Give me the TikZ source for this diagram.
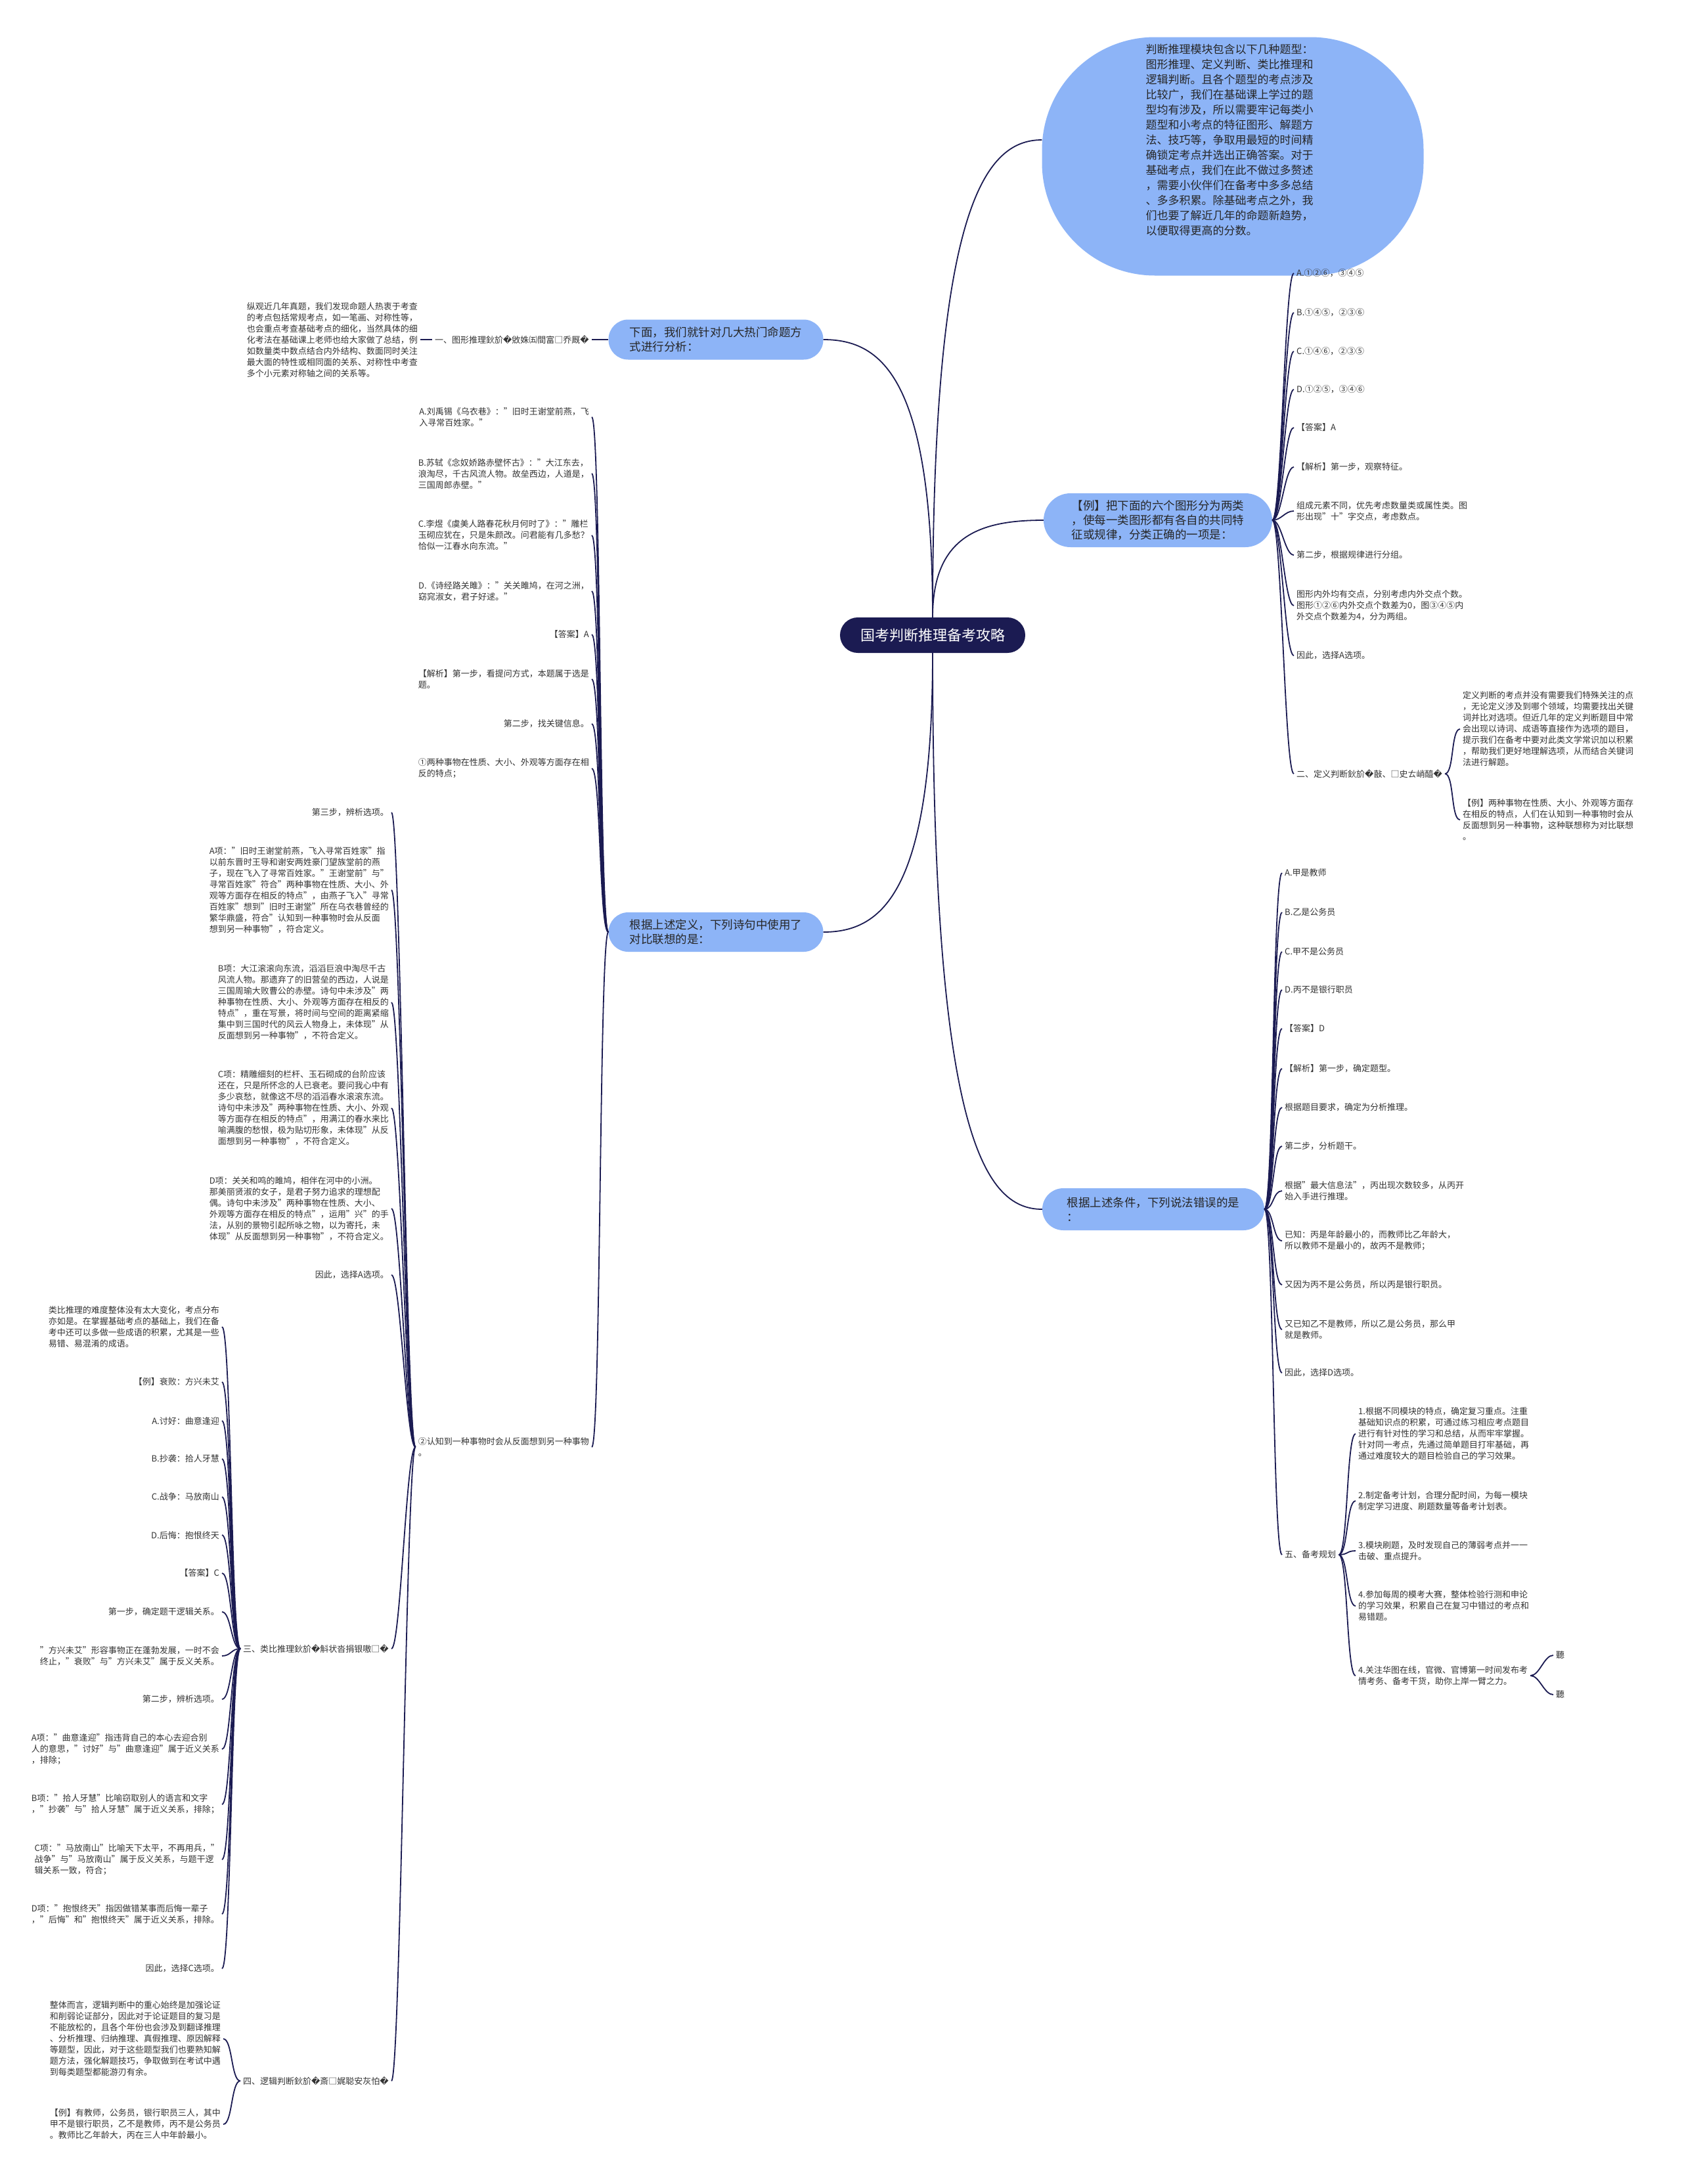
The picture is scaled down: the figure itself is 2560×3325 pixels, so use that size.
\documentclass[tikz,border=0pt]{standalone}
\usepackage{fontspec}
\setmainfont{Noto Sans CJK SC}
\newfontfamily\repfont{DejaVu Sans}
\newcommand{\badch}{{\repfont\symbol{"FFFD}}}

\definecolor{mapnavy}{RGB}{27,27,82}
\definecolor{mapblue}{RGB}{141,180,247}

\tikzset{
  link/.style={draw=mapnavy, line width=1.8pt},
  rootbox/.style={fill=mapnavy, text=white, rounded corners=27pt, minimum width=282pt,
    minimum height=54pt, font=\fontsize{22}{26}\selectfont},
  topicbox/.style={fill=mapblue, rounded corners=30pt, align=left, text=black!85,
    font=\fontsize{17.5}{22}\selectfont},
  leaf/.style={align=left, inner xsep=4pt, inner ysep=2pt, text=black!80,
    font=\fontsize{13}{17}\selectfont},
  leafR/.style={leaf, anchor=west},
  leafL/.style={leaf, anchor=east}
}

\newcommand{\toright}[2]{\draw[link] (#1.east) .. controls +(14,0) and +(-14,0) .. (#2.west);}
\newcommand{\toleft}[2]{\draw[link] (#1.west) .. controls +(-14,0) and +(14,0) .. (#2.east);}

\begin{document}
\begin{tikzpicture}[x=1pt,y=-1pt]

    \fill[white] (0,0) rectangle (2560,3325);
    \useasboundingbox (0,0) rectangle (2560,3325);

    % Nodo central
    \node[rootbox] (root) at (1420,967) {国考判断推理备考攻略};

    % Ramas principales
    \node[fill=mapblue, rounded corners=172pt, minimum width=581pt, minimum height=363pt] (bubble) at (1877,238) {};
    \node[align=left, text=black!85, font=\fontsize{17}{23}\selectfont] (bubbletext) at (1872,213)
      {判断推理模块包含以下几种题型：\\图形推理、定义判断、类比推理和\\逻辑判断。且各个题型的考点涉及\\比较广，我们在基础课上学过的题\\型均有涉及，所以需要牢记每类小\\题型和小考点的特征图形、解题方\\法、技巧等，争取用最短的时间精\\确锁定考点并选出正确答案。对于\\基础考点，我们在此不做过多赘述\\，需要小伙伴们在备考中多多总结\\、多多积累。除基础考点之外，我\\们也要了解近几年的命题新趋势，\\以便取得更高的分数。};
    \node[topicbox, minimum width=348pt, minimum height=82pt, rounded corners=41pt] (exam) at (1763,792)
      {【例】把下面的六个图形分为两类\\，使每一类图形都有各自的共同特\\征或规律，分类正确的一项是：};
    \node[topicbox, minimum width=338pt, minimum height=64pt, rounded corners=32pt] (cond) at (1756,1841)
      {根据上述条件，下列说法错误的是\\：};
    \node[topicbox, minimum width=327pt, minimum height=61pt] (intro) at (1090,517)
      {下面，我们就针对几大热门命题方\\式进行分析：};
    \node[topicbox, minimum width=327pt, minimum height=60pt] (poem) at (1090,1419)
      {根据上述定义，下列诗句中使用了\\对比联想的是：};

    \draw[link] (root.north) .. controls (1420,330) and (1495,213) .. (bubble.west |- bubbletext.west);
    \draw[link] (root.north) .. controls (1420,814) and (1495,792) .. (exam.west);
    \draw[link] (root.south) .. controls (1420,1714) and (1495,1841) .. (cond.west);
    \draw[link] (root.north) .. controls (1420,580) and (1345,517) .. (intro.east);
    \draw[link] (root.south) .. controls (1420,1355) and (1345,1419) .. (poem.east);

    % Ejemplo de figuras
    \node[leafR] (r2a) at (1970,416) {A.①②⑥，③④⑤};
    \node[leafR] (r2b) at (1970,476) {B.①④⑤，②③⑥};
    \node[leafR] (r2c) at (1970,535) {C.①④⑥，②③⑤};
    \node[leafR] (r2d) at (1970,593) {D.①②⑤，③④⑥};
    \node[leafR] (r2e) at (1970,651) {【答案】A};
    \node[leafR] (r2f) at (1970,711) {【解析】第一步，观察特征。};
    \node[leafR] (r2g) at (1970,778) {组成元素不同，优先考虑数量类或属性类。图\\形出现"十"字交点，考虑数点。};
    \node[leafR] (r2h) at (1970,845) {第二步，根据规律进行分组。};
    \node[leafR] (r2i) at (1970,922) {图形内外均有交点，分别考虑内外交点个数。\\图形①②⑥内外交点个数差为0，图③④⑤内\\外交点个数差为4，分为两组。};
    \node[leafR] (r2j) at (1970,998) {因此，选择A选项。};
    \node[leafR] (def) at (1970,1178) {二、定义判断鈥斺\badch 敼、□史ㄊ峭醯\badch};
    \node[leafR] (defa) at (2223,1110) {定义判断的考点并没有需要我们特殊关注的点\\，无论定义涉及到哪个领域，均需要找出关键\\词并比对选项。但近几年的定义判断题目中常\\会出现以诗词、成语等直接作为选项的题目，\\提示我们在备考中要对此类文学常识加以积累\\，帮助我们更好地理解选项，从而结合关键词\\法进行解题。};
    \node[leafR] (defb) at (2223,1248) {【例】两种事物在性质、大小、外观等方面存\\在相反的特点，人们在认知到一种事物时会从\\反面想到另一种事物，这种联想称为对比联想\\。};

    \foreach \c in {r2a,r2b,r2c,r2d,r2e,r2f,r2g,r2h,r2i,r2j,def} \toright{exam}{\c};
    \foreach \c in {defa,defb} \toright{def}{\c};

    % Razonamiento analitico
    \node[leafR] (c1) at (1952,1329) {A.甲是教师};
    \node[leafR] (c2) at (1952,1389) {B.乙是公务员};
    \node[leafR] (c3) at (1952,1449) {C.甲不是公务员};
    \node[leafR] (c4) at (1952,1507) {D.丙不是银行职员};
    \node[leafR] (c5) at (1952,1566) {【答案】D};
    \node[leafR] (c6) at (1952,1627) {【解析】第一步，确定题型。};
    \node[leafR] (c7) at (1952,1686) {根据题目要求，确定为分析推理。};
    \node[leafR] (c8) at (1952,1745) {第二步，分析题干。};
    \node[leafR] (c9) at (1952,1813) {根据"最大信息法"，丙出现次数较多，从丙开\\始入手进行推理。};
    \node[leafR] (c10) at (1952,1889) {已知：丙是年龄最小的，而教师比乙年龄大，\\所以教师不是最小的，故丙不是教师；};
    \node[leafR] (c11) at (1952,1956) {又因为丙不是公务员，所以丙是银行职员。};
    \node[leafR] (c12) at (1952,2024) {又已知乙不是教师，所以乙是公务员，那么甲\\就是教师。};
    \node[leafR] (c13) at (1952,2090) {因此，选择D选项。};
    \node[leafR] (plan) at (1952,2367) {五、备考规划};
    \node[leafR] (p1) at (2064,2183) {1.根据不同模块的特点，确定复习重点。注重\\基础知识点的积累，可通过练习相应考点题目\\进行有针对性的学习和总结，从而牢牢掌握。\\针对同一考点，先通过简单题目打牢基础，再\\通过难度较大的题目检验自己的学习效果。};
    \node[leafR] (p2) at (2064,2285) {2.制定备考计划，合理分配时间，为每一模块\\制定学习进度、刷题数量等备考计划表。};
    \node[leafR] (p3) at (2064,2361) {3.模块刷题，及时发现自己的薄弱考点并一一\\击破、重点提升。};
    \node[leafR] (p4) at (2064,2445) {4.参加每周的模考大赛，整体检验行测和申论\\的学习效果，积累自己在复习中错过的考点和\\易错题。};
    \node[leafR] (p5) at (2064,2551) {4.关注华图在线，官微、官博第一时间发布考\\情考务、备考干货，助你上岸一臂之力。};
    \node[leafR] (s1) at (2365,2520) {聽};
    \node[leafR] (s2) at (2365,2580) {聽};

    \foreach \c in {c1,c2,c3,c4,c5,c6,c7,c8,c9,c10,c11,c12,c13,plan} \toright{cond}{\c};
    \foreach \c in {p1,p2,p3,p4,p5} \toright{plan}{\c};
    \foreach \c in {s1,s2} \toright{p5}{\c};

    % Razonamiento grafico
    \node[leafL] (lab1) at (901,517) {一、图形推理鈥斺\badch 敓姝㈤間富□乔厩\badch};
    \node[leafL] (trend) at (640,517) {纵观近几年真题，我们发现命题人热衷于考查\\的考点包括常规考点，如一笔画、对称性等，\\也会重点考查基础考点的细化，当然具体的细\\化考法在基础课上老师也给大家做了总结，例\\如数量类中数点结合内外结构、数面同时关注\\最大面的特性或相同面的关系、对称性中考查\\多个小元素对称轴之间的关系等。};
    \toleft{intro}{lab1}
    \toleft{lab1}{trend}

    % Poemas y asociacion por contraste
    \node[leafL] (q1) at (901,635) {A.刘禹锡《乌衣巷》："旧时王谢堂前燕，飞\\入寻常百姓家。"};
    \node[leafL] (q2) at (901,721) {B.苏轼《念奴娇路赤壁怀古》："大江东去，\\浪淘尽，千古风流人物。故垒西边，人道是，\\三国周郎赤壁。"};
    \node[leafL] (q3) at (901,815) {C.李煜《虞美人路春花秋月何时了》："雕栏\\玉砌应犹在，只是朱颜改。问君能有几多愁？\\恰似一江春水向东流。"};
    \node[leafL] (q4) at (901,900) {D.《诗经路关雎》："关关雎鸠，在河之洲，\\窈窕淑女，君子好逑。"};
    \node[leafL] (q5) at (901,966) {【答案】A};
    \node[leafL] (q6) at (901,1034) {【解析】第一步，看提问方式，本题属于选是\\题。};
    \node[leafL] (q7) at (901,1102) {第二步，找关键信息。};
    \node[leafL] (q8) at (901,1170) {①两种事物在性质、大小、外观等方面存在相\\反的特点；};
    \node[leafL] (q9) at (901,2203) {②认知到一种事物时会从反面想到另一种事物\\。};
    \foreach \c in {q1,q2,q3,q4,q5,q6,q7,q8,q9} \toleft{poem}{\c};

    \node[leafL] (k1) at (596,1237) {第三步，辨析选项。};
    \node[leafL] (k2) at (596,1355) {A项："旧时王谢堂前燕，飞入寻常百姓家"指\\以前东晋时王导和谢安两姓豪门望族堂前的燕\\子，现在飞入了寻常百姓家。"王谢堂前"与"\\寻常百姓家"符合"两种事物在性质、大小、外\\观等方面存在相反的特点"，由燕子飞入"寻常\\百姓家"想到"旧时王谢堂"所在乌衣巷曾经的\\繁华鼎盛，符合"认知到一种事物时会从反面\\想到另一种事物"，符合定义。};
    \node[leafL] (k3) at (596,1526) {B项：大江滚滚向东流，滔滔巨浪中淘尽千古\\风流人物。那遗弃了的旧营垒的西边，人说是\\三国周瑜大败曹公的赤壁。诗句中未涉及"两\\种事物在性质、大小、外观等方面存在相反的\\特点"，重在写景，将时间与空间的距离紧缩\\集中到三国时代的风云人物身上，未体现"从\\反面想到另一种事物"，不符合定义。};
    \node[leafL] (k4) at (596,1687) {C项：精雕细刻的栏杆、玉石砌成的台阶应该\\还在，只是所怀念的人已衰老。要问我心中有\\多少哀愁，就像这不尽的滔滔春水滚滚东流。\\诗句中未涉及"两种事物在性质、大小、外观\\等方面存在相反的特点"，用满江的春水来比\\喻满腹的愁恨，极为贴切形象，未体现"从反\\面想到另一种事物"，不符合定义。};
    \node[leafL] (k5) at (596,1840) {D项：关关和鸣的雎鸠，相伴在河中的小洲。\\那美丽贤淑的女子，是君子努力追求的理想配\\偶。诗句中未涉及"两种事物在性质、大小、\\外观等方面存在相反的特点"，运用"兴"的手\\法，从别的景物引起所咏之物，以为寄托，未\\体现"从反面想到另一种事物"，不符合定义。};
    \node[leafL] (k6) at (596,1941) {因此，选择A选项。};
    \node[leafL] (ana) at (596,2510) {三、类比推理鈥斺\badch 斛状沓捐银嗷□\badch};
    \node[leafL] (logic) at (596,3168) {四、逻辑判断鈥斺\badch 斎□娓聪安灰怕\badch};
    \foreach \c in {k1,k2,k3,k4,k5,k6,ana,logic} \toleft{q9}{\c};

    % Analogias
    \node[leafL] (a1) at (338,2020) {类比推理的难度整体没有太大变化，考点分布\\亦如是。在掌握基础考点的基础上，我们在备\\考中还可以多做一些成语的积累，尤其是一些\\易错、易混淆的成语。};
    \node[leafL] (a2) at (338,2104) {【例】衰败：方兴未艾};
    \node[leafL] (a3) at (338,2163) {A.讨好：曲意逢迎};
    \node[leafL] (a4) at (338,2221) {B.抄袭：拾人牙慧};
    \node[leafL] (a5) at (338,2279) {C.战争：马放南山};
    \node[leafL] (a6) at (338,2337) {D.后悔：抱恨终天};
    \node[leafL] (a7) at (338,2395) {【答案】C};
    \node[leafL] (a8) at (338,2454) {第一步，确定题干逻辑关系。};
    \node[leafL] (a9) at (338,2521) {"方兴未艾"形容事物正在蓬勃发展，一时不会\\终止，"衰败"与"方兴未艾"属于反义关系。};
    \node[leafL] (a10) at (338,2587) {第二步，辨析选项。};
    \node[leafL] (a11) at (338,2663) {A项："曲意逢迎"指违背自己的本心去迎合别\\人的意思，"讨好"与"曲意逢迎"属于近义关系\\，排除；};
    \node[leafL] (a12) at (338,2747) {B项："拾人牙慧"比喻窃取别人的语言和文字\\，"抄袭"与"拾人牙慧"属于近义关系，排除；};
    \node[leafL] (a13) at (338,2831) {C项："马放南山"比喻天下太平，不再用兵，"\\战争"与"马放南山"属于反义关系，与题干逻\\辑关系一致，符合；};
    \node[leafL] (a14) at (338,2914) {D项："抱恨终天"指因做错某事而后悔一辈子\\，"后悔"和"抱恨终天"属于近义关系，排除。};
    \node[leafL] (a15) at (338,2997) {因此，选择C选项。};
    \foreach \c in {a1,a2,a3,a4,a5,a6,a7,a8,a9,a10,a11,a12,a13,a14,a15} \toleft{ana}{\c};

    % Logica
    \node[leafL] (g1) at (340,3104) {整体而言，逻辑判断中的重心始终是加强论证\\和削弱论证部分，因此对于论证题目的复习是\\不能放松的，且各个年份也会涉及到翻译推理\\、分析推理、归纳推理、真假推理、原因解释\\等题型，因此，对于这些题型我们也要熟知解\\题方法，强化解题技巧，争取做到在考试中遇\\到每类题型都能游刃有余。};
    \node[leafL] (g2) at (340,3234) {【例】有教师，公务员，银行职员三人，其中\\甲不是银行职员，乙不是教师，丙不是公务员\\。教师比乙年龄大，丙在三人中年龄最小。};
    \foreach \c in {g1,g2} \toleft{logic}{\c};

\end{tikzpicture}
\end{document}
